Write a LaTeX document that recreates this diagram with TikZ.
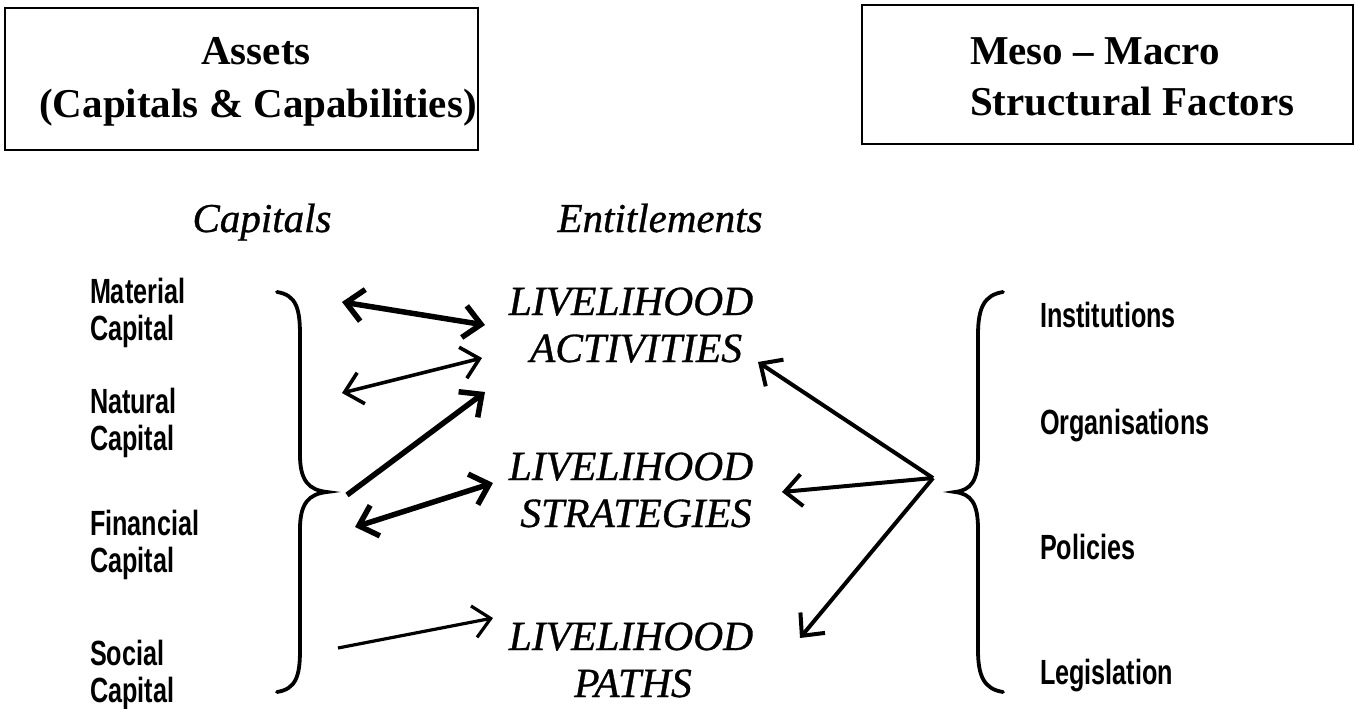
\documentclass[tikz,border=0pt]{standalone}
\usepackage{fontspec}
\setmainfont{Liberation Serif}
\newfontfamily\heavyitalic{Liberation Serif}[UprightFont=*-Italic, FakeBold=0.8]
\newfontfamily\narrowsans{Liberation Sans}[FakeStretch=0.72]
\usetikzlibrary{arrows.meta}

\tikzset{
  every node/.style={inner sep=0pt, outer sep=0pt},
  titlebox/.style={draw, line width=1.6pt},
  titletext/.style={font=\fontsize{41}{48}\selectfont\bfseries, anchor=base},
  heading/.style={font=\fontsize{41}{48}\selectfont\heavyitalic, anchor=base},
  outcome/.style={font=\fontsize{41.5}{47}\selectfont\heavyitalic, anchor=base},
  factor/.style={font=\fontsize{35}{37}\selectfont\narrowsans\bfseries, anchor=base west},
  brace/.style={line width=3.8pt, line cap=round},
  link/.style={line width=#1, -{Straight Barb[length=17pt,width=32pt,line width=#1]}},
  link/.default=3.2pt,
  twoway/.style={line width=#1, {Straight Barb[length=17pt,width=32pt,line width=#1]}-{Straight Barb[length=17pt,width=32pt,line width=#1]}},
  twoway/.default=3.2pt,
}

\begin{document}
\begin{tikzpicture}[x=1pt, y=-1pt]
\useasboundingbox (0,0) rectangle (1362,709);

% title boxes
\node[titlebox, minimum width=473pt, minimum height=142pt, anchor=north west] (assets) at (5,8) {};
\node[titletext] (assets1) at (256,65) {Assets};
\node[titletext] (assets2) at (258,117) {(Capitals \& Capabilities)};

\node[titlebox, minimum width=491pt, minimum height=139pt, anchor=north west] (meso) at (862,5) {};
\node[titletext, anchor=base west] (meso1) at (970,65) {Meso -- Macro};
\node[titletext, anchor=base west] (meso2) at (970,115) {Structural Factors};

% column headings
\node[heading] (capitals) at (262,232) {Capitals};
\node[heading] (entitlements) at (660,232) {Entitlements};

% capitals
\node[factor] (material1) at (90,303) {Material};
\node[factor] (material2) at (90,340) {Capital};
\node[factor] (natural1) at (90,413) {Natural};
\node[factor] (natural2) at (90,450) {Capital};
\node[factor] (financial1) at (90,535) {Financial};
\node[factor] (financial2) at (90,572) {Capital};
\node[factor] (social1) at (90,665) {Social};
\node[factor] (social2) at (90,702) {Capital};

% structural factors
\node[factor] (institutions) at (1040,327) {Institutions};
\node[factor] (organisations) at (1040,434) {Organisations};
\node[factor] (policies) at (1040,559) {Policies};
\node[factor] (legislation) at (1040,684) {Legislation};

% livelihood outcomes
\node[outcome] (activities1) at (631,315) {LIVELIHOOD};
\node[outcome] (activities2) at (636,362) {ACTIVITIES};
\node[outcome] (strategies1) at (631,480) {LIVELIHOOD};
\node[outcome] (strategies2) at (636,527) {STRATEGIES};
\node[outcome] (paths1) at (631,650) {LIVELIHOOD};
\node[outcome] (paths2) at (633,697) {PATHS};

% braces
\draw[brace] (277,292) .. controls (296,295) and (300,308) .. (300,335)
  -- (300,455) .. controls (300,481) and (309,490) .. (327,492)
  .. controls (309,494) and (300,503) .. (300,529)
  -- (300,650) .. controls (300,676) and (296,689) .. (277,692);
\draw[brace] (1003,292) .. controls (984,295) and (978,308) .. (978,335)
  -- (978,455) .. controls (978,481) and (971,490) .. (955,492)
  .. controls (971,494) and (978,503) .. (978,529)
  -- (978,650) .. controls (978,676) and (984,689) .. (1003,692);

% connector end points
\coordinate (a1) at (342,302);  \coordinate (b1) at (485,325);
\coordinate (a2) at (342,393);  \coordinate (b2) at (482,358);
\coordinate (a3) at (347,495);  \coordinate (b3) at (485,392);
\coordinate (a4) at (355,527);  \coordinate (b4) at (493,483);
\coordinate (a5) at (338,648);  \coordinate (b5) at (493,618);
\coordinate (hub) at (933,478);
\coordinate (c1) at (758,362);
\coordinate (c2) at (782,492);
\coordinate (c3) at (800,638);

% connectors
\draw[twoway=5.5pt] (a1) -- (b1);
\draw[twoway=3.6pt] (a2) -- (b2);
\draw[link=5.5pt] (a3) -- (b3);
\draw[twoway=5.5pt] (a4) -- (b4);
\draw[link=3.2pt] (a5) -- (b5);
\draw[link=4pt] (hub) -- (c1);
\draw[link=4pt] (hub) -- (c2);
\draw[link=4pt] (hub) -- (c3);
\end{tikzpicture}
\end{document}
